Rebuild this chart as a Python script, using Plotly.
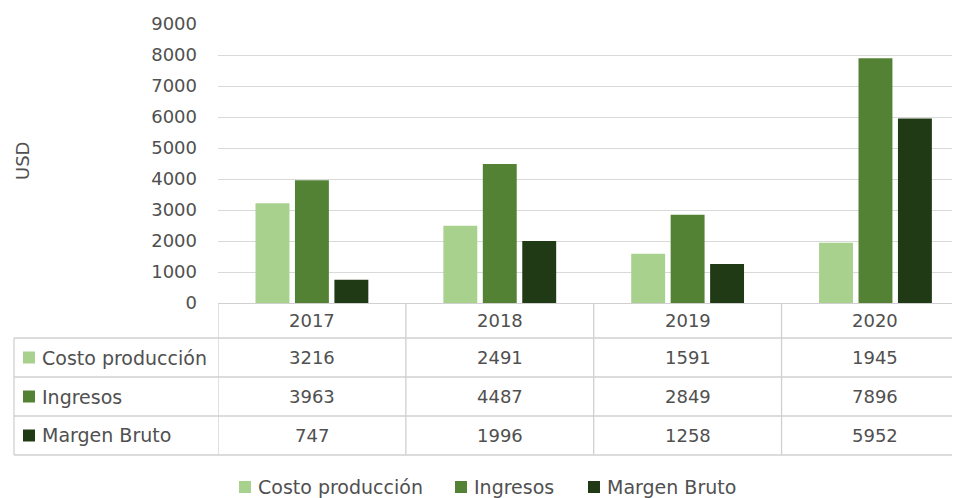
import plotly.graph_objects as go

# ---------------- data ----------------
years = ["2017", "2018", "2019", "2020"]
series_names = ["Costo producción", "Ingresos", "Margen Bruto"]
costo = [3216, 2491, 1591, 1945]
ingresos = [3963, 4487, 2849, 7896]
margen = [747, 1996, 1258, 5952]
y_ticks = [0, 1000, 2000, 3000, 4000, 5000, 6000, 7000, 8000, 9000]
y_title = "USD"

series_values = [costo, ingresos, margen]
colors = ["#a9d18e", "#548235", "#213a16"]

# ---------------- layout geometry (screen pixels) ----------------
OFF = 8                      # default page body margin
SW, SH = 960, 498            # browser window
W, H = SW - OFF, SH - OFF    # figure size
PLOT_L, PLOT_T, PLOT_B = 218, 24, 303   # screen px of plot area
ML = PLOT_L - OFF
MT = PLOT_T - OFF
MB = H - (PLOT_B - OFF)
MR = 0
PW = W - ML - MR
PH = H - MT - MB
FONT = "DejaVu Sans"
FS = 18
FS_WORD = 19
TXT = "#505050"
GRID = "#d9d9d9"
BORDER = "#d0d0d0"
LEGEND_KEY_PX = [239, 455, 588]   # left edge of each bottom-legend key
LEGEND_CY = 487


def px_x(px):
    return (px - OFF - ML) / PW


def px_y(py):
    return (H - MB - (py - OFF)) / PH


fig = go.Figure()
for name, vals, col in zip(series_names, series_values, colors):
    fig.add_trace(go.Bar(x=years, y=vals, name=name, showlegend=False,
                         marker=dict(color=col, line=dict(width=0))))

shapes = []
annotations = []

header_top = PLOT_B
header_bot = header_top + 35
row_h = 39
row_tops = [header_bot + row_h * i for i in range(len(series_names) + 1)]
table_left = 14

# horizontal lines of the table
for py in row_tops:
    shapes.append(dict(type="line", xref="paper", yref="paper",
                       x0=px_x(table_left), x1=1, y0=px_y(py), y1=px_y(py),
                       line=dict(color=BORDER, width=1.3)))
# vertical lines between year columns
for i in range(len(years) + 1):
    shapes.append(dict(type="line", xref="x", yref="paper",
                       x0=i - 0.5, x1=i - 0.5,
                       y0=px_y(header_top), y1=px_y(row_tops[-1]),
                       line=dict(color=BORDER, width=1.3)))
# left edge of row-label column
shapes.append(dict(type="line", xref="paper", yref="paper",
                   x0=px_x(table_left), x1=px_x(table_left),
                   y0=px_y(row_tops[0]), y1=px_y(row_tops[-1]),
                   line=dict(color=BORDER, width=1.3)))


def txt(x, y, text, xref="paper", xanchor="center", size=FS, **kw):
    d = dict(x=x, xref=xref, y=y, yref="paper", text=text, showarrow=False,
             xanchor=xanchor, yanchor="middle",
             font=dict(family=FONT, size=size, color=TXT))
    d.update(kw)
    return d


# year header texts
for i, yr in enumerate(years):
    annotations.append(txt(i, px_y((header_top + header_bot) / 2), yr, xref="x"))

# rows
for r, (name, vals, col) in enumerate(zip(series_names, series_values, colors)):
    cy = row_tops[r] + row_h / 2
    shapes.append(dict(type="rect", xref="paper", yref="paper",
                       x0=px_x(23), x1=px_x(35), y0=px_y(cy - 6), y1=px_y(cy + 6),
                       fillcolor=col, line=dict(width=0)))
    annotations.append(txt(px_x(40), px_y(cy), name, xanchor="left", size=FS_WORD))
    for i, v in enumerate(vals):
        annotations.append(txt(i, px_y(cy), str(v), xref="x"))

# bottom legend
for name, col, kx in zip(series_names, colors, LEGEND_KEY_PX):
    shapes.append(dict(type="rect", xref="paper", yref="paper",
                       x0=px_x(kx), x1=px_x(kx + 12),
                       y0=px_y(LEGEND_CY - 6), y1=px_y(LEGEND_CY + 6),
                       fillcolor=col, line=dict(width=0)))
    annotations.append(txt(px_x(kx + 17), px_y(LEGEND_CY), name, xanchor="left",
                           size=FS_WORD))

# y-axis title
annotations.append(txt(px_x(22), px_y(161), y_title, textangle=-90))

fig.update_layout(
    width=W, height=H,
    margin=dict(l=ML, r=MR, t=MT, b=MB, pad=0, autoexpand=False),
    paper_bgcolor="white", plot_bgcolor="white",
    barmode="group", bargap=0.37, bargroupgap=0.14,
    font=dict(family=FONT, size=FS, color=TXT),
    showlegend=False,
    xaxis=dict(type="category", range=[-0.5, 3.45], showticklabels=False,
               showgrid=False, zeroline=False, showline=True,
               linecolor=BORDER, linewidth=1.3, ticks=""),
    yaxis=dict(range=[0, 9000], tickvals=y_ticks, showgrid=True,
               gridcolor=GRID, gridwidth=1.3, zeroline=False, showline=False,
               ticks="", ticklabelstandoff=20,
               tickfont=dict(family=FONT, size=FS, color=TXT)),
    shapes=shapes,
    annotations=annotations,
)

fig.write_html("out.html")
